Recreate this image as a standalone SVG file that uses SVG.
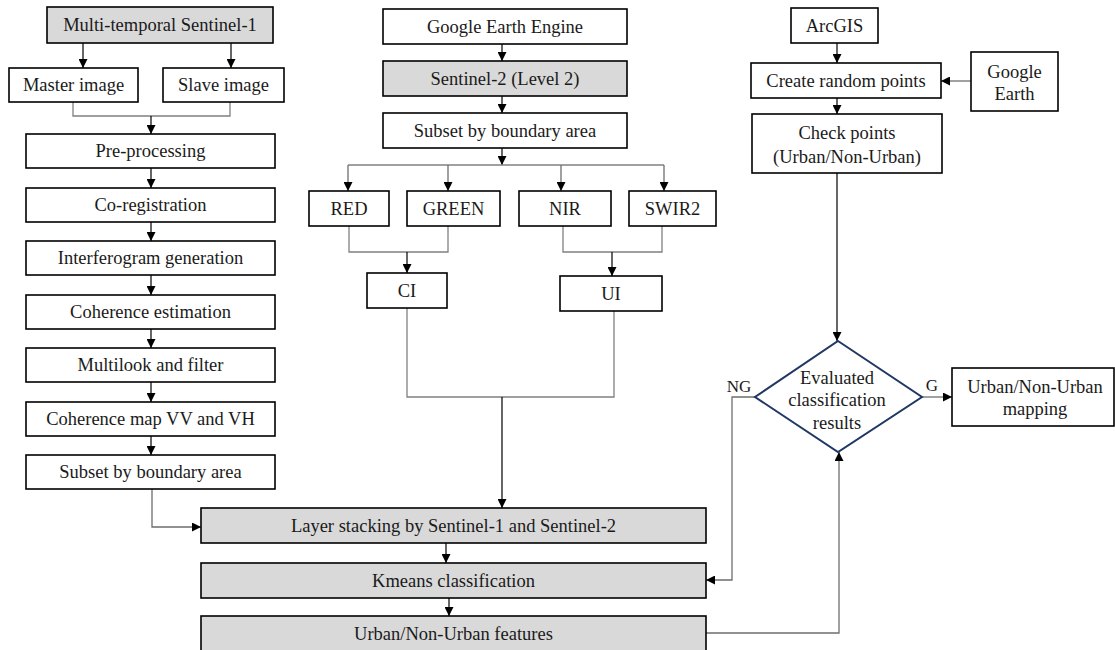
<svg xmlns="http://www.w3.org/2000/svg" width="1115" height="650" viewBox="0 0 1115 650">
<style>
.b{fill:#fff;stroke:#000;stroke-width:1.6}
.g{fill:#d9d9d9;stroke:#000;stroke-width:1.6}
.t{font-family:"Liberation Serif","Times New Roman",serif;font-size:18.5px;fill:#1a1a1a;text-anchor:middle}
.s{font-family:"Liberation Serif","Times New Roman",serif;font-size:17px;fill:#1a1a1a;text-anchor:middle}
.ln{fill:none;stroke:#808080;stroke-width:1.3}
.ar{fill:none;stroke:#000;stroke-width:1.2;marker-end:url(#ah)}
.ag{fill:none;stroke:#6e6e6e;stroke-width:1.3;marker-end:url(#ah)}
</style>
<defs>
<marker id="ah" viewBox="0 0 10 10" refX="10" refY="5" markerWidth="9" markerHeight="9" markerUnits="userSpaceOnUse" orient="auto">
<path d="M0,0 L10,5 L0,10 z" fill="#000"/>
</marker>
</defs>
<rect width="1115" height="650" fill="#fff"/>

<g id="connectors">
<path class="ar" d="M83,43 V68"/>
<path class="ar" d="M231,43 V68"/>
<path class="ln" d="M73,102 V116 H230 V102"/>
<path class="ar" d="M151,116 V134"/>
<path class="ar" d="M151,168 V188"/>
<path class="ar" d="M151,222 V241"/>
<path class="ar" d="M151,275 V295"/>
<path class="ar" d="M151,329 V348"/>
<path class="ar" d="M151,382 V402"/>
<path class="ar" d="M151,436 V455"/>
<path class="ag" d="M152,489 V527 H201"/>

<path class="ar" d="M502,44 V61"/>
<path class="ar" d="M502,96 V113"/>
<path class="ar" d="M502,148 V165"/>
<path class="ln" d="M348,165 H664"/>
<path class="ag" d="M348,165 V191"/>
<path class="ag" d="M448,165 V191"/>
<path class="ag" d="M561,165 V191"/>
<path class="ag" d="M664,165 V191"/>
<path class="ln" d="M349,226 V252 H448 V226"/>
<path class="ar" d="M407,252 V273"/>
<path class="ln" d="M563,226 V252 H662 V226"/>
<path class="ar" d="M612,252 V276"/>
<path class="ln" d="M407,308 V397 H614 V311"/>
<path class="ar" d="M502,397 V508"/>

<path class="ar" d="M446,543 V563"/>
<path class="ar" d="M449,598 V616"/>

<path class="ar" d="M837,43 V63"/>
<path class="ag" d="M971,81 H941"/>
<path class="ar" d="M837,98 V114"/>
<path class="ar" d="M837,173 V341"/>
<path class="ag" d="M922,397 H952"/>
<path class="ag" d="M755,397 H732 V580 H706"/>
<path class="ag" d="M706,633 H839 V452"/>
</g>

<g id="n-s1"><rect class="g" x="47" y="7" width="226" height="36"/><text class="t" x="160" y="31">Multi-temporal Sentinel-1</text></g>
<g id="n-master"><rect class="b" x="9" y="68" width="129" height="34"/><text class="t" x="73.5" y="91">Master image</text></g>
<g id="n-slave"><rect class="b" x="163" y="68" width="121" height="34"/><text class="t" x="223.5" y="91">Slave image</text></g>
<g id="n-pre"><rect class="b" x="26" y="134" width="249" height="34"/><text class="t" x="150.5" y="157">Pre-processing</text></g>
<g id="n-coreg"><rect class="b" x="26" y="188" width="249" height="34"/><text class="t" x="150.5" y="211">Co-registration</text></g>
<g id="n-interf"><rect class="b" x="26" y="241" width="249" height="34"/><text class="t" x="150.5" y="264">Interferogram generation</text></g>
<g id="n-cohest"><rect class="b" x="26" y="295" width="249" height="34"/><text class="t" x="150.5" y="318">Coherence estimation</text></g>
<g id="n-multi"><rect class="b" x="26" y="348" width="249" height="34"/><text class="t" x="150.5" y="371">Multilook and filter</text></g>
<g id="n-cohmap"><rect class="b" x="26" y="402" width="249" height="34"/><text class="t" x="150.5" y="425">Coherence map VV and  VH</text></g>
<g id="n-subset1"><rect class="b" x="26" y="455" width="249" height="34"/><text class="t" x="150.5" y="478">Subset by boundary area</text></g>

<g id="n-gee"><rect class="b" x="383" y="9" width="244" height="35"/><text class="t" x="505" y="33">Google Earth Engine</text></g>
<g id="n-s2"><rect class="g" x="383" y="61" width="244" height="35"/><text class="t" x="505" y="85">Sentinel-2 (Level 2)</text></g>
<g id="n-subset2"><rect class="b" x="383" y="113" width="244" height="35"/><text class="t" x="505" y="137">Subset by boundary area</text></g>
<g id="n-red"><rect class="b" x="309" y="191" width="80" height="35"/><text class="t" x="349" y="215">RED</text></g>
<g id="n-green"><rect class="b" x="407" y="191" width="93" height="35"/><text class="t" x="453.5" y="215">GREEN</text></g>
<g id="n-nir"><rect class="b" x="519" y="191" width="92" height="35"/><text class="t" x="565" y="215">NIR</text></g>
<g id="n-swir"><rect class="b" x="629" y="191" width="87" height="35"/><text class="t" x="672.5" y="215">SWIR2</text></g>
<g id="n-ci"><rect class="b" x="367" y="273" width="80" height="35"/><text class="t" x="407" y="297">CI</text></g>
<g id="n-ui"><rect class="b" x="560" y="276" width="102" height="35"/><text class="t" x="611" y="300">UI</text></g>

<g id="n-layer"><rect class="g" x="201" y="508" width="505" height="35"/><text class="t" x="453.5" y="532">Layer stacking by Sentinel-1 and Sentinel-2</text></g>
<g id="n-kmeans"><rect class="g" x="201" y="563" width="505" height="35"/><text class="t" x="453.5" y="587">Kmeans classification</text></g>
<g id="n-features"><rect class="g" x="201" y="616" width="505" height="36"/><text class="t" x="453.5" y="640">Urban/Non-Urban features</text></g>

<g id="n-arcgis"><rect class="b" x="791" y="8" width="87" height="35"/><text class="t" x="834.5" y="32">ArcGIS</text></g>
<g id="n-random"><rect class="b" x="751" y="63" width="190" height="35"/><text class="t" x="846" y="87">Create random points</text></g>
<g id="n-gearth"><rect class="b" x="971" y="52" width="87" height="59"/><text class="t" x="1014.5" y="78">Google</text><text class="t" x="1014.5" y="100">Earth</text></g>
<g id="n-check"><rect class="b" x="752" y="114" width="190" height="59"/><text class="t" x="847" y="139">Check points</text><text class="t" x="847" y="163">(Urban/Non-Urban)</text></g>
<g id="n-eval"><polygon points="838,341 922,397 838,452 755,397" fill="#fff" stroke="#203864" stroke-width="2"/><text class="t" x="837" y="384">Evaluated</text><text class="t" x="837" y="406">classification</text><text class="t" x="837" y="429">results</text></g>
<g id="n-mapping"><rect class="b" x="952" y="368" width="162" height="58"/><text class="t" x="1035" y="393">Urban/Non-Urban</text><text class="t" x="1035" y="415">mapping</text></g>
<text class="s" x="739" y="392">NG</text>
<text class="s" x="932" y="391">G</text>
</svg>
